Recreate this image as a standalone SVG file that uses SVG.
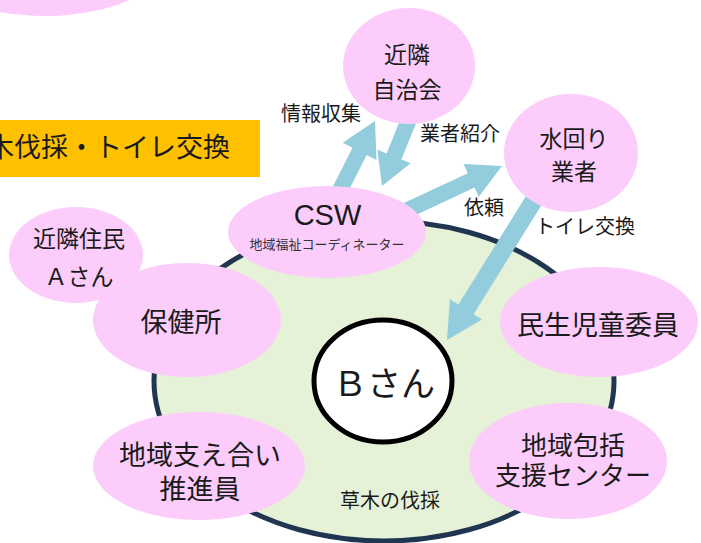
<svg xmlns="http://www.w3.org/2000/svg" width="701" height="543" viewBox="0 0 701 543">
<style>
.node{fill:#fccdfb;stroke:none}
.jp{font-family:"Noto Sans CJK JP","Noto Sans",sans-serif;fill:#1a1a1a;text-anchor:middle;dominant-baseline:central}
.n23{font-size:23px}
.n27{font-size:27px}
.n26{font-size:26px}
.lbl{font-size:20px}
.arrow{fill:#93cddd;stroke:none}
</style>
<rect x="0" y="0" width="701" height="543" fill="#ffffff"/>
<g id="topleft"><ellipse class="node" cx="45" cy="-45" rx="125" ry="61"/></g>
<g id="banner">
<rect x="-2" y="120" width="262" height="57" fill="#ffc000"/>
<text class="jp" x="230" y="145" style="font-size:27px;text-anchor:end">木伐採・トイレ交換</text>
</g>
<g id="area">
<ellipse cx="384" cy="381" rx="230" ry="160" fill="#e5f2d7" stroke="#1f3550" stroke-width="5"/>
<text class="jp lbl" x="390" y="499">草木の伐採</text>
</g>
<g id="connectors">
<polygon class="arrow" points="339.6,208.4 366.7,154.9 376.5,159.9 375,121 342.7,142.7 352.5,147.7 325.4,201.2"/>
<polygon class="arrow" points="405.4,107.1 386.6,153.4 377.3,149.6 382,186 410.7,163.2 401.4,159.4 420.2,113.1"/>
<polygon class="arrow" points="402.1,221.5 474.6,187.6 478.8,196.7 502,166 463.6,164.1 467.8,173.2 395.3,207.0"/>
<polygon class="arrow" points="529.8,190.0 458.4,304.6 449.9,299.3 447,340 482.1,319.5 473.6,314.2 545.0,199.6"/>
<text class="jp lbl" x="321" y="112">情報収集</text>
<text class="jp lbl" x="460" y="132">業者紹介</text>
<text class="jp lbl" x="484" y="206">依頼</text>
<text class="jp lbl" x="585" y="225">トイレ交換</text>
</g>
<g id="jichikai">
<ellipse class="node" cx="409" cy="66" rx="66" ry="58"/>
<text class="jp n23" x="407" y="53">近隣</text>
<text class="jp n23" x="407" y="88">自治会</text>
</g>
<g id="mizumawari">
<ellipse class="node" cx="571" cy="153" rx="67" ry="59"/>
<text class="jp n23" x="574" y="137">水回り</text>
<text class="jp n23" x="574" y="170">業者</text>
</g>
<g id="csw">
<ellipse class="node" cx="327" cy="232" rx="99" ry="46"/>
<text x="327.5" y="225" style="font-family:'Liberation Sans',Arial,sans-serif;font-size:29px;text-anchor:middle;fill:#1a1a1a">CSW</text>
<text class="jp" x="327" y="243" style="font-size:13px;fill:#333">地域福祉コーディネーター</text>
</g>
<g id="kinrin">
<ellipse class="node" cx="76" cy="255" rx="67" ry="48"/>
<text class="jp n23" x="79" y="237">近隣住民</text>
<text class="jp n23" x="79" y="275">Ａさん</text>
</g>
<g id="hokenjo">
<ellipse class="node" cx="187" cy="320" rx="94" ry="57"/>
<text class="jp n27" x="181" y="320">保健所</text>
</g>
<g id="minsei">
<ellipse class="node" cx="599" cy="322" rx="99" ry="55"/>
<text class="jp n27" x="598" y="323">民生児童委員</text>
</g>
<g id="sasaeai">
<ellipse class="node" cx="199" cy="466" rx="106" ry="54"/>
<text class="jp n27" x="200" y="453">地域支え合い</text>
<text class="jp n27" x="200" y="487">推進員</text>
</g>
<g id="houkatsu">
<ellipse class="node" cx="568" cy="461" rx="99" ry="58"/>
<text class="jp n26" x="573" y="443">地域包括</text>
<text class="jp n26" x="573" y="473">支援センター</text>
</g>
<g id="bsan">
<ellipse cx="383" cy="381" rx="69" ry="61" fill="#ffffff" stroke="#000000" stroke-width="5"/>
<text class="jp" x="384" y="381" style="font-size:34px">Ｂさん</text>
</g>
</svg>
